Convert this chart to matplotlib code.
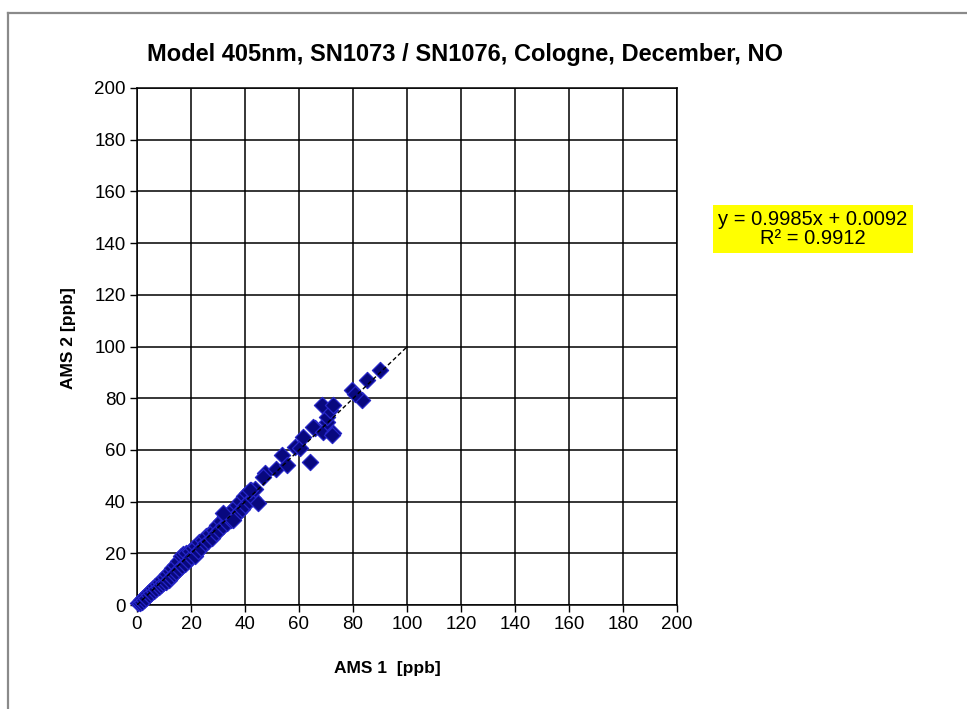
import matplotlib
matplotlib.use("Agg")
import matplotlib.pyplot as plt
from matplotlib.lines import Line2D
import numpy as np

plt.rcParams['font.family'] = ['Liberation Sans', 'DejaVu Sans']

title = "Model 405nm, SN1073 / SN1076, Cologne, December, NO"
x_label = "AMS 1  [ppb]"
y_label = "AMS 2 [ppb]"
equation = "y = 0.9985x + 0.0092\nR² = 0.9912"

# AMS 1 readings (ppb)
ams1 = [0.5, 1.0, 1.4, 1.9, 2.3, 2.7, 3.1, 3.5, 4.0, 4.4, 4.9, 5.3, 5.8, 6.2, 6.7, 7.1,
        7.6, 8.0, 8.5, 8.9, 9.4, 9.8, 10.3, 10.8, 11.2, 11.7, 12.1, 12.6, 13.1, 13.6,
        14.1, 14.6, 15.1, 15.6, 16.2, 16.7, 17.2, 17.8, 18.3, 18.9, 19.5, 20.1, 20.7,
        21.3, 21.9, 22.5, 23.1, 23.8, 24.4, 25.0, 25.7, 26.3, 27.0, 27.7, 28.4, 29.1,
        29.8, 30.5, 31.2, 32.0, 32.7, 33.4, 34.1, 34.8, 35.5, 36.2, 36.9, 37.6, 38.2,
        38.9, 39.5, 40.1, 40.8, 41.4, 42.1, 42.8, 43.6,
        44.8, 35.6, 31.9, 41.9, 47.4, 46.7, 51.5, 53.7, 55.6, 58.5, 60.4, 64.1, 61.5,
        65.9, 65.2, 68.9, 72.6, 70.4, 72.2, 70.4, 71.5, 68.5, 72.6, 79.6, 83.3, 80.7,
        85.1, 90.0]

# AMS 2 readings (ppb)
ams2 = [0.8, 0.6, 1.9, 1.2, 2.8, 2.0, 3.6, 2.9, 4.6, 3.8, 5.5, 4.5, 6.4, 5.3, 7.3, 6.0,
        8.1, 6.9, 9.0, 7.8, 10.1, 8.4, 11.0, 8.9, 12.1, 9.8, 13.0, 10.9, 14.4, 11.8,
        15.6, 12.9, 17.0, 14.0, 18.9, 15.1, 19.8, 16.0, 20.2, 17.2, 21.0, 18.4, 21.9,
        19.1, 23.0, 20.9, 24.2, 22.0, 25.3, 23.8, 26.5, 24.9, 28.0, 26.1, 29.2, 27.7,
        30.9, 29.0, 32.6, 30.5, 34.4, 31.6, 35.7, 33.0, 37.1, 34.5, 38.8, 36.0, 40.3,
        37.2, 42.0, 38.5, 43.3, 40.2, 44.6, 41.4, 45.0,
        39.5, 32.9, 35.6, 44.5, 51.1, 49.5, 52.8, 58.0, 54.2, 61.1, 60.7, 55.3, 65.0,
        68.5, 68.9, 66.9, 66.5, 70.8, 65.8, 72.7, 75.4, 77.4, 77.4, 83.2, 79.3, 81.5,
        87.0, 90.9]

slope, intercept = 0.9985, 0.0092
trend_x = [0, 100]

W, H = 967, 709
fig = plt.figure(figsize=(W / 100, H / 100), dpi=100)
fig.patch.set_facecolor('white')

# outer chart frame
fig.add_artist(Line2D([8 / W, 8 / W], [0, 1 - 13 / H], color='#8a8a8a', lw=1.6,
                      transform=fig.transFigure))
fig.add_artist(Line2D([8 / W, 1], [1 - 13 / H, 1 - 13 / H], color='#8a8a8a', lw=1.6,
                      transform=fig.transFigure))

ax = fig.add_axes([137 / W, 1 - 605 / H, 540 / W, 517 / H])
ax.set_xlim(0, 200)
ax.set_ylim(0, 200)
ticks = np.arange(0, 201, 20)
ax.set_xticks(ticks)
ax.set_yticks(ticks)
ax.grid(True, color='black', lw=1.1)
ax.set_axisbelow(True)
for s in ax.spines.values():
    s.set_color('black')
    s.set_linewidth(1.1)
ax.tick_params(direction='out', length=5, width=1.0, colors='black',
               labelsize=13.5, pad=3)

ax.scatter(ams1, ams2, marker='D', s=68, facecolor='#08087e', edgecolor='#2626c8',
           linewidths=0.9, zorder=3, clip_on=False)
ax.plot(trend_x, [slope * v + intercept for v in trend_x], color='black', lw=1.0,
        ls=(0, (3, 2)), zorder=4)

fig.text(387 / W, 1 - 668 / H, x_label, ha='center', va='center', fontsize=12.5,
         fontweight='bold')
fig.text(68 / W, 1 - 338 / H, y_label, ha='center', va='center', fontsize=12.5,
         fontweight='bold', rotation=90)

fig.text(465 / W, 1 - 55 / H, title, ha='center', va='center', fontsize=17,
         fontweight='bold')

fig.text(813 / W, 1 - 229 / H, equation, ha='center', va='center', fontsize=14.5,
         linespacing=1.0,
         bbox=dict(boxstyle='square,pad=0.25', facecolor='#ffff00', edgecolor='none'))

fig.savefig('out.png', dpi=100, facecolor='white')
